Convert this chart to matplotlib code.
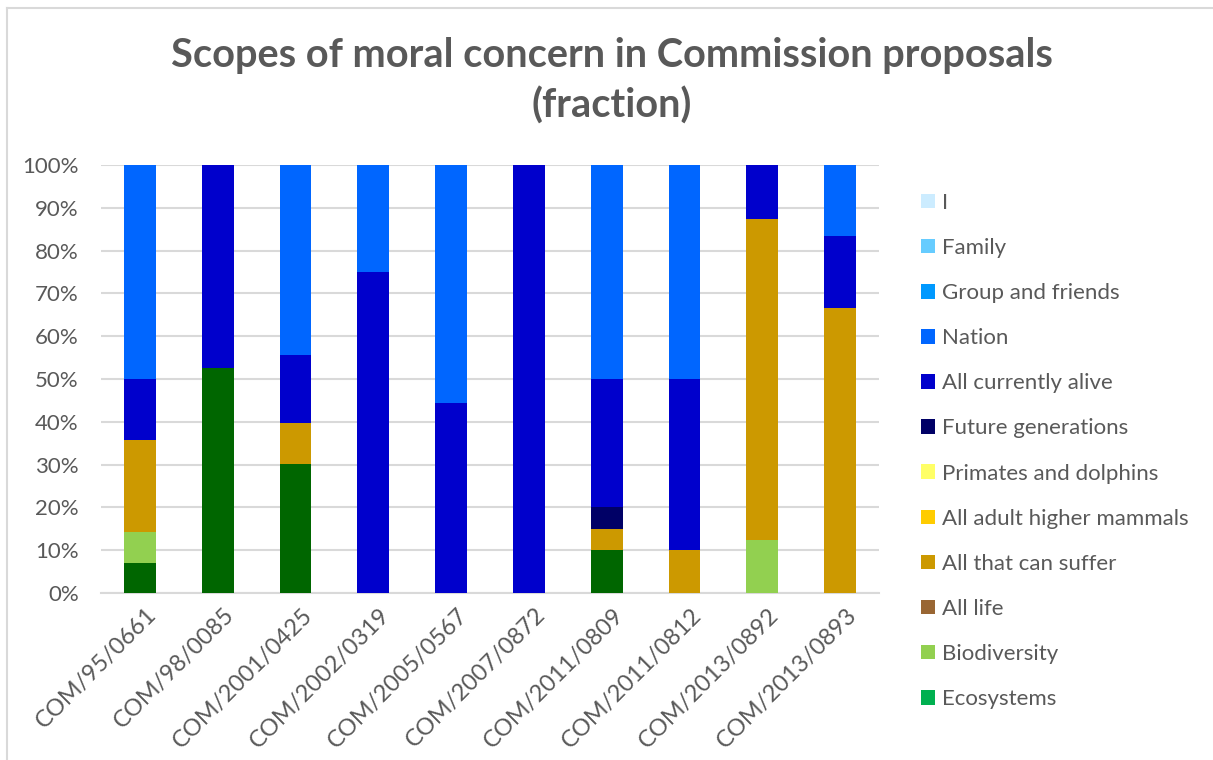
import matplotlib
matplotlib.use("Agg")
import matplotlib.pyplot as plt
from matplotlib.lines import Line2D
from matplotlib.patches import Patch
from matplotlib.transforms import ScaledTranslation
import numpy as np

plt.rcParams['font.family'] = ['Lato', 'DejaVu Sans']

proposals = ["COM/95/0661", "COM/98/0085", "COM/2001/0425", "COM/2002/0319",
             "COM/2005/0567", "COM/2007/0872", "COM/2011/0809", "COM/2011/0812",
             "COM/2013/0892", "COM/2013/0893"]

# Fractions (percent) per scope, stacked from the bottom up
environment     = [7.1, 52.6, 30.2, 0, 0, 0, 10.0, 0, 0, 0]
ecosystems      = [0, 0, 0, 0, 0, 0, 0, 0, 0, 0]
biodiversity    = [7.2, 0, 0, 0, 0, 0, 0, 0, 12.5, 0]
all_life        = [0, 0, 0, 0, 0, 0, 0, 0, 0, 0]
can_suffer      = [21.4, 0, 9.5, 0, 0, 0, 5.0, 10.0, 75.0, 66.7]
higher_mammals  = [0, 0, 0, 0, 0, 0, 0, 0, 0, 0]
primates        = [0, 0, 0, 0, 0, 0, 0, 0, 0, 0]
future_gens     = [0, 0, 0, 0, 0, 0, 5.0, 0, 0, 0]
currently_alive = [14.3, 47.4, 15.9, 75.0, 44.4, 100.0, 30.0, 40.0, 12.5, 16.6]
nation          = [50.0, 0, 44.4, 25.0, 55.6, 0, 50.0, 50.0, 0, 16.7]
group_friends   = [0, 0, 0, 0, 0, 0, 0, 0, 0, 0]
family          = [0, 0, 0, 0, 0, 0, 0, 0, 0, 0]
self_scope      = [0, 0, 0, 0, 0, 0, 0, 0, 0, 0]

series = [
    ("_environment", environment, "#006600"),
    ("Ecosystems", ecosystems, "#00B050"),
    ("Biodiversity", biodiversity, "#92D050"),
    ("All life", all_life, "#996633"),
    ("All that can suffer", can_suffer, "#CC9900"),
    ("All adult higher mammals", higher_mammals, "#FFCC00"),
    ("Primates and dolphins", primates, "#FFFF66"),
    ("Future generations", future_gens, "#000066"),
    ("All currently alive", currently_alive, "#0000CC"),
    ("Nation", nation, "#0066FF"),
    ("Group and friends", group_friends, "#0099FF"),
    ("Family", family, "#66CCFF"),
    ("I", self_scope, "#CCECFF"),
]

TXT = "#595959"
GRID = "#D9D9D9"

fig = plt.figure(figsize=(12.13, 7.6), dpi=100)
ax = fig.add_axes([101 / 1213, 1 - 593 / 760, 778 / 1213, 428 / 760])

x = np.arange(len(proposals))
bottom = np.zeros(len(proposals))
handles = []
for name, vals, color in series:
    vals = np.array(vals, dtype=float)
    ax.bar(x, vals, 0.41, bottom=bottom, color=color, linewidth=0, zorder=3)
    bottom += vals
    if not name.startswith("_"):
        handles.append(Patch(facecolor=color, edgecolor="none", label=name))

ax.set_xlim(-0.5, len(proposals) - 0.5)
ax.set_ylim(0, 100)
ax.set_yticks(np.arange(0, 101, 10))
ax.set_yticklabels([f"{v}%" for v in range(0, 101, 10)], color=TXT, fontsize=16)
ax.yaxis.grid(True, color=GRID, linewidth=1.5, zorder=0)
ax.tick_params(axis="both", length=0)
ax.tick_params(axis="y", pad=16)
for s in ["left", "right", "top"]:
    ax.spines[s].set_visible(False)
ax.spines["bottom"].set_color(GRID)
ax.spines["bottom"].set_linewidth(1.5)

ax.set_xticks(x)
ax.set_xticklabels(proposals, rotation=45, ha="right", va="top",
                   rotation_mode="anchor", color=TXT, fontsize=17)
ax.tick_params(axis="x", pad=8)
shift = ScaledTranslation(6 / 100, 0, fig.dpi_scale_trans)
for lbl in ax.get_xticklabels():
    lbl.set_transform(lbl.get_transform() + shift)

fig.text(0.5045, 1 - 56 / 760, "Scopes of moral concern in Commission proposals",
         ha="center", va="center", fontsize=28.6, fontweight="bold", color=TXT)
fig.text(0.5045, 1 - 106 / 760, "(fraction)",
         ha="center", va="center", fontsize=28.6, fontweight="bold", color=TXT)

leg = fig.legend(handles=handles[::-1], loc="upper left",
                 bbox_to_anchor=(912 / 1213, 1 - 184 / 760),
                 frameon=False, fontsize=16, labelcolor=TXT,
                 handlelength=0.63, handleheight=0.63, handletextpad=0.3,
                 labelspacing=1.13, borderaxespad=0)

# chart-area border (left and top edges)
fig.add_artist(Line2D([7 / 1213, 7 / 1213], [0, 1 - 8 / 760],
                      transform=fig.transFigure, color=GRID, linewidth=1.5))
fig.add_artist(Line2D([7 / 1213, 1], [1 - 8 / 760, 1 - 8 / 760],
                      transform=fig.transFigure, color=GRID, linewidth=1.5))

fig.savefig("out.png", dpi=100)
